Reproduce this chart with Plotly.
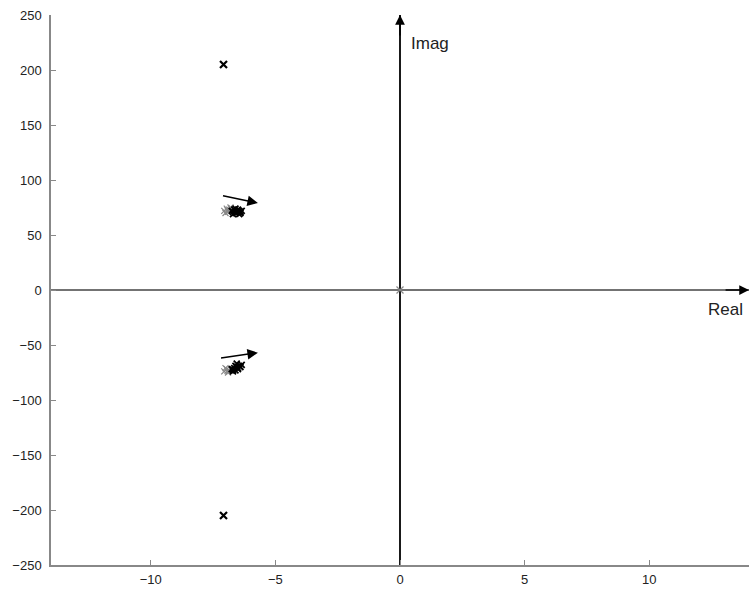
import plotly.graph_objects as go

# Open-loop poles (far) and origin
pole_re = [-7.08, -7.08]
pole_im = [205.0, -205.0]
origin_re = [0.0]
origin_im = [0.0]

# Clustered root-locus points (gray = early iterations, black = later)
up_gray_re = [-7.05, -6.95, -6.9, -6.85, -7.0, -6.8, -6.92]
up_gray_im = [72, 74, 71, 73, 70, 75, 72.5]
up_black_re = [-6.75, -6.7, -6.65, -6.6, -6.55, -6.5, -6.45, -6.4, -6.35, -6.6, -6.5, -6.45, -6.7, -6.55, -6.4]
up_black_im = [72, 71, 73, 70, 72, 71, 69, 70, 72, 74, 73, 72, 69, 70.5, 71]
lo_gray_re = [-7.05, -6.95, -6.9, -6.85, -7.0, -6.92]
lo_gray_im = [-74, -72, -75, -73, -71, -73.5]
lo_black_re = [-6.75, -6.7, -6.65, -6.6, -6.55, -6.5, -6.45, -6.4, -6.35, -6.55, -6.6, -6.5, -6.7]
lo_black_im = [-72, -74, -71, -73, -70, -72, -69, -70, -68, -67, -69, -71, -72.5]

# Direction arrows: (tail_re, tail_im, head_re, head_im)
arrow_up = (-7.16, 86, -5.7, 79)
arrow_lo = (-7.24, -62, -5.7, -57)

x_ticks = [-10, -5, 0, 5, 10]
y_ticks = [250, 200, 150, 100, 50, 0, -50, -100, -150, -200, -250]
x_range = [-14, 14]
y_range = [-250, 250]

fig = go.Figure()

# Axes through origin
fig.add_trace(go.Scatter(x=[x_range[0], x_range[1]], y=[0, 0], mode="lines",
                         line=dict(color="#444444", width=1.5), hoverinfo="skip"))
fig.add_trace(go.Scatter(x=[0, 0], y=[y_range[0], y_range[1]], mode="lines",
                         line=dict(color="black", width=1.8), hoverinfo="skip"))

fig.add_trace(go.Scatter(x=up_gray_re + lo_gray_re, y=up_gray_im + lo_gray_im, mode="markers",
                         marker=dict(symbol="x-thin", size=6, line=dict(color="#888888", width=1.2))))
fig.add_trace(go.Scatter(x=up_black_re + lo_black_re, y=up_black_im + lo_black_im, mode="markers",
                         marker=dict(symbol="x-thin", size=6, line=dict(color="black", width=1.8))))
fig.add_trace(go.Scatter(x=pole_re, y=pole_im, mode="markers",
                         marker=dict(symbol="x-thin", size=7, line=dict(color="black", width=2.2))))
fig.add_trace(go.Scatter(x=origin_re, y=origin_im, mode="markers",
                         marker=dict(symbol="x-thin", size=7, line=dict(color="#888888", width=1.2))))

for a in (arrow_up, arrow_lo):
    fig.add_annotation(x=a[2], y=a[3], ax=a[0], ay=a[1], xref="x", yref="y", axref="x", ayref="y",
                       showarrow=True, arrowhead=2, arrowsize=1.4, arrowwidth=1.5, arrowcolor="black", text="")

# axis arrowheads
fig.add_annotation(x=0, y=y_range[1], ax=0, ay=y_range[1] - 20, xref="x", yref="y", axref="x", ayref="y",
                   showarrow=True, arrowhead=2, arrowsize=1.3, arrowwidth=1.5, arrowcolor="black", text="")
fig.add_annotation(x=x_range[1], y=0, ax=x_range[1] - 1, ay=0, xref="x", yref="y", axref="x", ayref="y",
                   showarrow=True, arrowhead=2, arrowsize=1.3, arrowwidth=1.5, arrowcolor="black", text="")

fig.add_annotation(x=0.35, y=224, xref="x", yref="y", text="Imag", showarrow=False, xanchor="left",
                   font=dict(family="Liberation Sans, Arial", size=17, color="#222222"))
fig.add_annotation(x=13.85, y=-18, xref="x", yref="y", text="Real", showarrow=False, xanchor="right",
                   font=dict(family="Liberation Sans, Arial", size=17, color="#222222"))

tickfont = dict(family="Liberation Sans, Arial", size=13, color="#222222")

fig.update_layout(
    width=749, height=589, showlegend=False,
    margin=dict(l=51, r=0, t=15, b=24),
    paper_bgcolor="white", plot_bgcolor="white",
    font=dict(family="Liberation Sans, Arial", size=13, color="#222222"),
)
fig.update_xaxes(range=x_range, tickvals=x_ticks, showgrid=False, zeroline=False,
                 showline=True, linecolor="#888888", linewidth=1.5, ticks="inside",
                 ticklen=5, tickcolor="#888888", mirror=False, tickfont=tickfont,
                 ticklabelstandoff=2)
fig.update_yaxes(range=y_range, tickvals=y_ticks, showgrid=False, zeroline=False,
                 showline=True, linecolor="#888888", linewidth=1.5, ticks="inside",
                 ticklen=5, tickcolor="#888888", mirror=False, tickfont=tickfont,
                 ticklabelstandoff=5)

fig.write_html("out.html")
